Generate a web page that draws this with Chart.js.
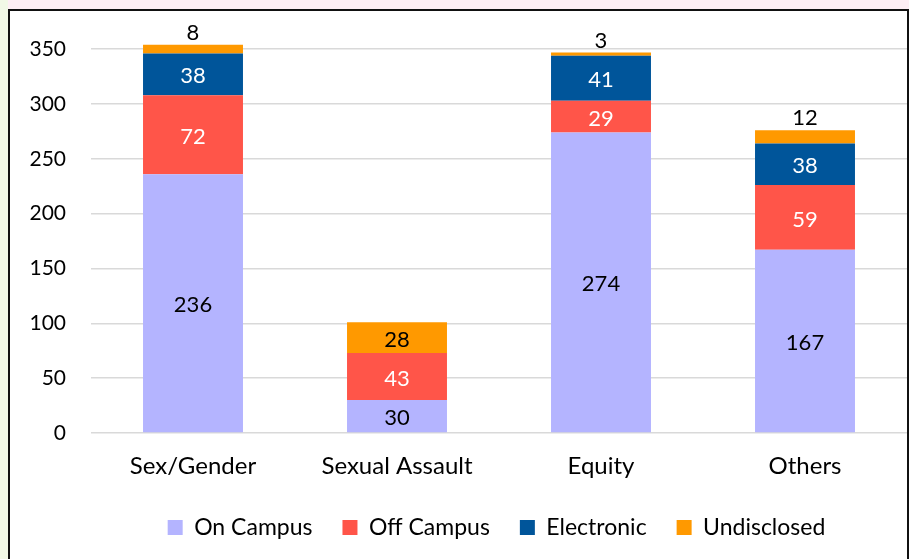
<!DOCTYPE html>
<html>
<head>
<meta charset="utf-8">
<script src="https://cdn.jsdelivr.net/npm/chart.js@4/dist/chart.umd.min.js"></script>
<style>
  html, body { margin: 0; padding: 0; }
  body { width: 909px; height: 559px; background: #fdeef4; position: relative; overflow: hidden; }
  #leftStrip { position: absolute; left: 0; top: 0; width: 8px; height: 559px; background: #f1f8e6; }
  #frame { position: absolute; left: 8px; top: 9px; width: 897px; height: 560px; background: #fff;
           border-left: 2px solid #111; border-top: 2px solid #111; border-right: 2px solid #111; }
  #chartBox { position: absolute; left: 0; top: -28px; width: 897px; height: 576px; }
</style>
</head>
<body>
<div id="leftStrip"></div>
<div id="frame">
  <div id="chartBox"><canvas id="chart"></canvas></div>
</div>
<script>
// data
var categories = ['Sex/Gender', 'Sexual Assault', 'Equity', 'Others'];
var onCampus    = [236, 30, 274, 167];
var offCampus   = [72, 43, 29, 59];
var electronic  = [38, 0, 41, 38];
var undisclosed = [8, 28, 3, 12];
var yTicks = [0, 50, 100, 150, 200, 250, 300, 350];

var FONT = 'Lato';

// labels in the middle of each piece, small top pieces get it above the bar
var segLabels = {
  id: 'segLabels',
  afterLayout: function(chart){
    // legend sits a bit right of centre in the original
    chart.legend.left += 76;
  },
  afterDatasetsDraw: function(chart){
    var ctx = chart.ctx;
    ctx.save();
    ctx.font = '22px ' + FONT;
    ctx.textAlign = 'center';
    ctx.textBaseline = 'middle';
    chart.data.datasets.forEach(function(ds, di){
      var meta = chart.getDatasetMeta(di);
      meta.data.forEach(function(bar, i){
        var v = ds.data[i];
        if(!v) return;
        var h = Math.abs(bar.base - bar.y);
        var y = (bar.y + bar.base) / 2 + 2;
        ctx.fillStyle = ds.labelColor;
        if(h < 20){
          y = bar.y - 12;
          ctx.fillStyle = '#000';
        }
        ctx.fillText(String(v), bar.x, y);
      });
    });
    ctx.restore();
  }
};

function mk(label, data, color, labelColor){
  return {
    label: label,
    data: data,
    backgroundColor: color,
    borderWidth: 0,
    labelColor: labelColor,
    barPercentage: 0.49,
    categoryPercentage: 1.0
  };
}

new Chart(document.getElementById('chart'), {
  type: 'bar',
  data: {
    labels: categories,
    datasets: [
      mk('On Campus', onCampus, '#b4b4ff', '#000'),
      mk('Off Campus', offCampus, '#ff5549', '#fff'),
      mk('Electronic', electronic, '#00559a', '#fff'),
      mk('Undisclosed', undisclosed, '#ff9900', '#000')
    ]
  },
  options: {
    responsive: true,
    maintainAspectRatio: false,
    animation: false,
    layout: { padding: { top: 0, right: 0, left: 0, bottom: 10 } },
    plugins: {
      legend: {
        position: 'bottom',
        labels: {
          font: { family: FONT, size: 23 },
          color: '#000',
          boxWidth: 15,
          boxHeight: 15,
          padding: 30
        }
      },
      tooltip: { enabled: false }
    },
    scales: {
      x: {
        stacked: true,
        grid: { display: false, drawTicks: false },
        border: { display: false },
        ticks: { font: { family: FONT, size: 24 }, color: '#000', padding: 19 },
        afterFit: function(s){ s.height = 53; }
      },
      y: {
        stacked: true,
        min: 0,
        max: 376,
        afterBuildTicks: function(s){ s.ticks = yTicks.map(function(v){ return {value: v}; }); },
        grid: { color: '#d9d9d9', lineWidth: 1.5, drawTicks: false },
        border: { display: false },
        ticks: { font: { family: FONT, size: 21 }, color: '#000', padding: 25 },
        afterFit: function(s){ s.width = 81; }
      }
    }
  },
  plugins: [segLabels]
});
</script>
</body>
</html>
